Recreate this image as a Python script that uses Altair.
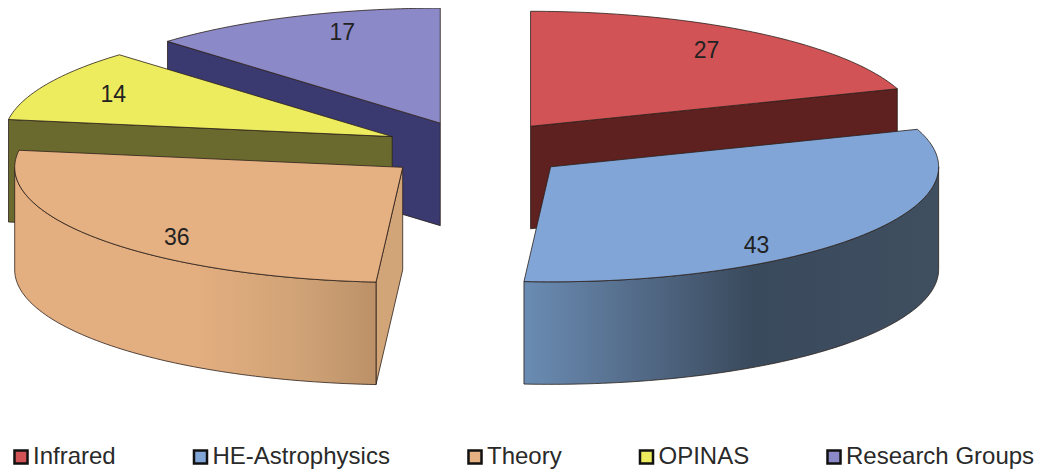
import math
import altair as alt
import pandas as pd

# data
categories = ["Infrared", "HE-Astrophysics", "Theory", "OPINAS", "Research Groups"]
values = [27, 43, 36, 14, 17]

# styles
top_colors = ["#D15355", "#80A5D6", "#E5B082", "#EDEB5E", "#8B89C7"]
cut_colors = ["#5E2120", None, "#D2A579", "#6A6A2E", "#3A3A70"]

# projection of the tilted pie (page pixels)
CX, CY = 476, 149.5    # pie centre
EX, EY = 94, 28.5      # explosion
A, B = 388, 115        # ellipse radii
DEPTH = 102.5          # thickness
LABEL_OFFSET = [(176, -75), (206, 79), (-226, 71), (-279, -42), (-98, -90)]

total = sum(values)
starts = []
acc = 0
for v in values:
    starts.append(acc / total * 2 * math.pi)
    acc += v
ends = starts[1:] + [2 * math.pi]


def rim(ax, ay, t):
    return ax + A * math.sin(t), ay - B * math.cos(t)


def arc(ax, ay, t0, t1, dy=0):
    n = max(2, int(abs(t1 - t0) / 0.02))
    return [(rim(ax, ay, t0 + (t1 - t0) * i / n)[0], rim(ax, ay, t0 + (t1 - t0) * i / n)[1] + dy)
            for i in range(n + 1)]


X = alt.X("x:Q", scale=alt.Scale(domain=[8, 1036]), axis=None)
Y = alt.Y("y:Q", scale=alt.Scale(domain=[469, 8]), axis=None)
ORDER = alt.Order("i:Q")


def frame(pts, name=None):
    pts = list(pts) + [pts[0]]
    return pd.DataFrame({"x": [p[0] for p in pts], "y": [p[1] for p in pts],
                         "i": range(len(pts)), "series": name})


def face(pts, fill, sw=0.8, stroke="#2b1f1a"):
    return alt.Chart(frame(pts)).mark_line(fill=fill, stroke=stroke, strokeWidth=sw,
                                           strokeJoin="round").encode(x=X, y=Y, order=ORDER)


def grad(stops):
    return alt.Gradient(gradient="linear", x1=0, x2=1, y1=0, y2=0,
                        stops=[alt.GradientStop(offset=o, color=c) for o, c in stops])


fill_scale = alt.Scale(domain=categories, range=top_colors)
legend = alt.Legend(orient="none", legendX=1, legendY=437, direction="horizontal", columns=5,
                    columnPadding=72.5, title=None, symbolType="square", symbolSize=170,
                    symbolStrokeColor="#111111", symbolStrokeWidth=2.5, symbolOpacity=1, symbolOffset=0,
                    labelFont="Liberation Sans", labelFontSize=24, labelColor="#2a2a2a",
                    labelOffset=0, labelLimit=300, padding=0)


def top(idx, ax, ay):
    pts = [(ax, ay)] + arc(ax, ay, starts[idx], ends[idx])
    return alt.Chart(frame(pts, categories[idx])).mark_line(stroke="#2b1f1a", strokeWidth=0.8).encode(
        x=X, y=Y, order=ORDER,
        fill=alt.Fill("series:N", scale=fill_scale, legend=legend))


apex = []
for s, e in zip(starts, ends):
    m = (s + e) / 2
    apex.append((CX + EX * math.sin(m), CY - EY * math.cos(m)))

layers = []
# left group, back to front: Research Groups, OPINAS, Theory
ax, ay = apex[4]
p = rim(ax, ay, starts[4])
layers += [face([(ax, ay), p, (p[0], p[1] + DEPTH), (ax, ay + DEPTH)], cut_colors[4]), top(4, ax, ay)]

ax, ay = apex[3]
p = rim(ax, ay, starts[3])
layers += [face([(ax, ay), p, (p[0], p[1] + DEPTH), (ax, ay + DEPTH)], cut_colors[3]), top(3, ax, ay)]

ax, ay = apex[2]
p = rim(ax, ay, starts[2])
layers += [face([(ax, ay), p, (p[0], p[1] + DEPTH), (ax, ay + DEPTH)], cut_colors[2])]
front = arc(ax, ay, 1.5 * math.pi, starts[2])
layers += [face(front + [(x, y + DEPTH) for x, y in reversed(front)],
                grad([(0, "#E3AE80"), (0.5, "#E3AE80"), (0.8, "#CFA276"), (1, "#BC9168")]))]
layers += [top(2, ax, ay)]

# right group: Infrared, HE-Astrophysics
ax, ay = apex[0]
p = rim(ax, ay, ends[0])
layers += [face([(ax, ay), p, (p[0], p[1] + DEPTH), (ax, ay + DEPTH)], cut_colors[0]), top(0, ax, ay)]

ax, ay = apex[1]
front = arc(ax, ay, ends[1], math.pi / 2)
layers += [face(front + [(x, y + DEPTH) for x, y in reversed(front)],
                grad([(0, "#6A8CB3"), (0.2, "#5A7494"), (0.55, "#3A4A5D"), (1, "#3F4F60")]))]
layers += [top(1, ax, ay)]

labels = pd.DataFrame({
    "x": [a[0] + o[0] for a, o in zip(apex, LABEL_OFFSET)],
    "y": [a[1] + o[1] for a, o in zip(apex, LABEL_OFFSET)],
    "t": [str(v) for v in values],
})
layers.append(alt.Chart(labels).mark_text(font="Liberation Sans", fontSize=23, color="#222222",
                                          baseline="middle", align="center").encode(x=X, y=Y, text="t:N"))

chart = alt.layer(*layers).properties(
    width=1028, height=461, padding=0, autosize=alt.AutoSizeParams(type="none"),
    background="white"
).configure_view(stroke=None)

chart.save("out.html", embed_options={"renderer": "svg", "actions": False})
